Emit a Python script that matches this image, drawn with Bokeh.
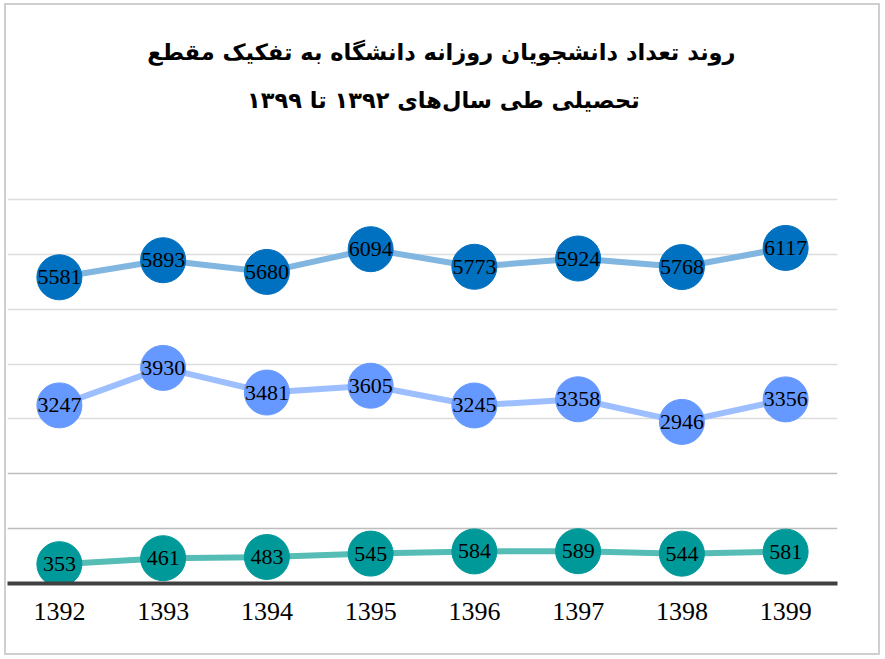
from bokeh.plotting import figure
from bokeh.models import ColumnDataSource, Grid, FixedTicker, Label, LabelSet
from bokeh.core.properties import value
from bokeh.embed import file_html
from bokeh.resources import INLINE

years = ["1392", "1393", "1394", "1395", "1396", "1397", "1398", "1399"]
series_top = [5581, 5893, 5680, 6094, 5773, 5924, 5768, 6117]
series_mid = [3247, 3930, 3481, 3605, 3245, 3358, 2946, 3356]
series_low = [353, 461, 483, 545, 584, 589, 544, 581]

title_line1 = "روند تعداد دانشجویان روزانه  دانشگاه به تفکیک مقطع"
title_line2 = "تحصیلی طی سال‌های ۱۳۹۲ تا ۱۳۹۹"

grid_dark = [1000, 2000]
grid_light = [3000, 4000, 5000, 6000, 7000]

# frame spans the whole canvas height above the axis; gridlines stop at 7000
y_end = 10536

p = figure(width=876, height=652, x_range=years, y_range=(0, y_end),
           output_backend="svg", toolbar_location=None, title=None,
           y_axis_location=None, min_border_left=1, min_border_right=45,
           min_border_top=0, min_border_bottom=74)
p.outline_line_color = None
for g in p.grid:
    g.visible = False
p.background_fill_color = "white"
p.border_fill_color = "white"
p.styles = {"border": "2px solid #cfcfcf", "margin-left": "4px", "margin-top": "3px"}

p.add_layout(Grid(dimension=1, ticker=FixedTicker(ticks=grid_dark, minor_ticks=[]),
                  grid_line_color="#bdbdbd", grid_line_width=1.5))
p.add_layout(Grid(dimension=1, ticker=FixedTicker(ticks=grid_light, minor_ticks=[]),
                  grid_line_color="#dcdcdc", grid_line_width=1.5))

ax = p.xaxis[0]
ax.axis_line_color = "#404040"
ax.axis_line_width = 4
ax.major_tick_line_color = None
ax.minor_tick_line_color = None
ax.major_label_text_font = "Liberation Serif"
ax.major_label_text_font_size = "26px"
ax.major_label_text_color = "black"
ax.major_label_standoff = 13

styles = [
    (series_top, "#80b6df", "#0070c0"),
    (series_mid, "#9dbfff", "#6699ff"),
    (series_low, "#55bcb6", "#009999"),
]
for vals, lc, mc in styles:
    src = ColumnDataSource(dict(x=years, y=vals, t=[str(v) for v in vals]))
    p.line("x", "y", source=src, line_color=lc, line_width=6)
    p.scatter("x", "y", source=src, size=45, fill_color=mc, line_color=mc)
    p.add_layout(LabelSet(x="x", y="y", text="t", source=src,
                          text_font=value("Liberation Serif"), text_font_size="22px",
                          text_color="black", text_align="center",
                          text_baseline="middle"))

p.add_layout(Label(x=4.22, y=9680, text=title_line1, text_align="center",
                   text_baseline="middle", text_font="DejaVu Sans",
                   text_font_size="22.5px", text_font_style="bold", text_color="black"))
p.add_layout(Label(x=4.2, y=8805, text=title_line2, text_align="center",
                   text_baseline="middle", text_font="DejaVu Sans",
                   text_font_size="22.5px", text_font_style="bold", text_color="black"))

open("out.html", "w").write(file_html(p, INLINE))
